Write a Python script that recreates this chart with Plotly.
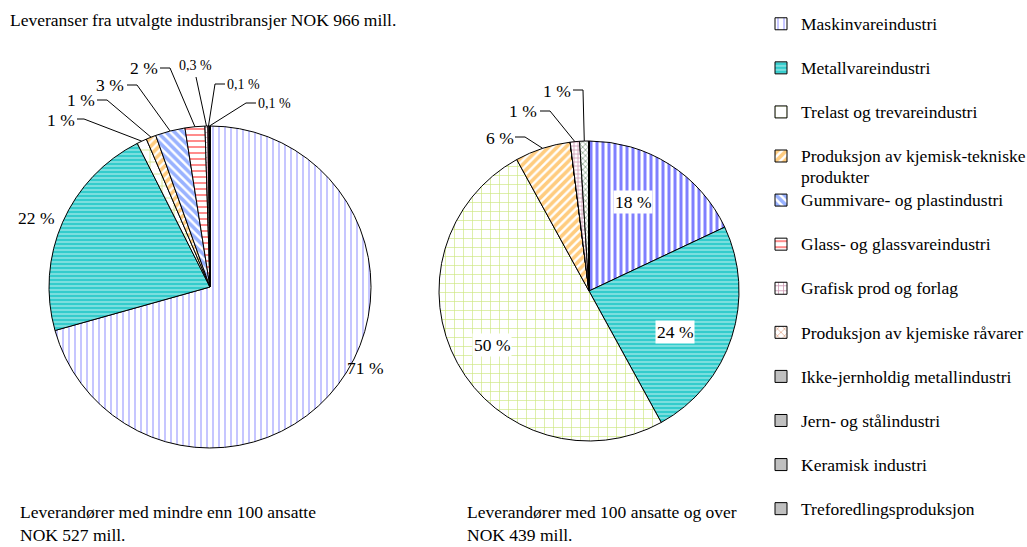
import math
import plotly.graph_objects as go

# ---------------- data ----------------
categories = [
    "Maskinvareindustri",
    "Metallvareindustri",
    "Trelast og trevareindustri",
    "Produksjon av kjemisk-tekniske produkter",
    "Gummivare- og plastindustri",
    "Glass- og glassvareindustri",
    "Grafisk prod og forlag",
    "Produksjon av kjemiske råvarer",
    "Ikke-jernholdig metallindustri",
    "Jern- og stålindustri",
    "Keramisk industri",
    "Treforedlingsproduksjon",
]
small_firms = [71, 22, 1, 1, 3, 2, 0.3, 0.1, 0.1, 0, 0, 0]   # < 100 ansatte (%)
large_firms = [18, 24, 50, 6, 0, 0, 1, 1, 0, 0, 0, 0]        # >= 100 ansatte (%)

title_text = "Leveranser fra utvalgte industribransjer NOK 966 mill."
sub1_text = "Leverandører med mindre enn 100 ansatte<br>NOK 527 mill."
sub2_text = "Leverandører med 100 ansatte og over<br>NOK 439 mill."

# ---------------- layout constants ----------------
W, H = 1027, 547
FONT = '"Liberation Serif", "Times New Roman", Times, serif'
BIG = 17.5
SMALL = 14

P1 = dict(cx=210, cy=287, r=161)
P2 = dict(cx=589, cy=291, r=150)

def px(x):
    return x / W

def py(y):
    return 1 - y / H

def domain(p):
    return dict(x=[px(p["cx"] - p["r"]), px(p["cx"] + p["r"])],
                y=[py(p["cy"] + p["r"]), py(p["cy"] - p["r"])])

def pct(v):
    s = ("%g" % v).replace(".", ",")
    return s + " %"

def legend_label(c):
    if c.endswith(" produkter"):
        a, b = c[:-len(" produkter")], "produkter"
    else:
        a, b = c, " "
    return f"<span style='font-size:{BIG}px'>{a}</span><br><span style='font-size:{BIG}px'>{b}</span>"

labels = [legend_label(c) for c in categories]

WHITE = "#ffffff"
GRAY = "#c0c0c0"
# pie 1 styles
bg1 = [WHITE, "#33cccc", WHITE, WHITE, WHITE, WHITE, WHITE, WHITE, GRAY, GRAY, GRAY, GRAY]
fg1 = ["#8080ff", WHITE, "#99cc00", "#ff9900", "#3366ff", "#ff0000", "#993366", "#cc6633",
       GRAY, GRAY, GRAY, GRAY]
sh1 = ["|", "-", "+", "/", "\\", "-", "+", "x", "", "", "", ""]
sz1 = [6, 4, 12, 6, 6, 6, 5, 5, 8, 8, 8, 8]
so1 = [0.3, 0.35, 0.12, 0.6, 0.6, 0.3, 0.3, 0.3, 0.3, 0.3, 0.3, 0.3]
# pie 2 styles
bg2 = [WHITE, "#33cccc", WHITE, WHITE, WHITE, WHITE, WHITE, WHITE, GRAY, GRAY, GRAY, GRAY]
fg2 = ["#0000ff", WHITE, "#99cc00", "#ff9900", "#3366ff", "#ff0000", "#993366", "#336633",
       GRAY, GRAY, GRAY, GRAY]
sh2 = ["|", "-", "+", "/", "\\", "-", "+", "x", "", "", "", ""]
sz2 = [6, 4, 9, 6, 6, 6, 4, 4, 8, 8, 8, 8]
so2 = [0.5, 0.35, 0.14, 0.6, 0.6, 0.3, 0.35, 0.4, 0.3, 0.3, 0.3, 0.3]

fig = go.Figure()
fig.add_trace(go.Pie(
    labels=labels, values=small_firms, sort=False, direction="clockwise", rotation=0,
    domain=domain(P1), textinfo="none", hoverinfo="label+percent", showlegend=True,
    marker=dict(colors=bg1, line=dict(color="black", width=1),
                pattern=dict(shape=sh1, fgcolor=fg1, size=sz1, solidity=so1, fillmode="overlay")),
))
fig.add_trace(go.Pie(
    labels=labels, values=large_firms, sort=False, direction="clockwise", rotation=0,
    domain=domain(P2), textinfo="none", hoverinfo="label+percent", showlegend=False,
    marker=dict(colors=bg2, line=dict(color="black", width=1),
                pattern=dict(shape=sh2, fgcolor=fg2, size=sz2, solidity=so2, fillmode="overlay")),
))

def edge(values, idx, p, k=1.0):
    tot = sum(values)
    mid = (sum(values[:idx]) + values[idx] / 2) / tot
    th = 2 * math.pi * mid
    return p["cx"] + k * p["r"] * math.sin(th), p["cy"] - k * p["r"] * math.cos(th)

annotations = []
shapes = []

def text(x, y, s, size=BIG, xanchor="center", bg=None, align="left"):
    d = dict(x=px(x), y=py(y), xref="paper", yref="paper", text=s, showarrow=False,
             xanchor=xanchor, yanchor="middle", align=align,
             font=dict(family=FONT, size=size, color="black"))
    if bg:
        d["bgcolor"] = bg
        d["borderpad"] = 1
    annotations.append(d)

def leader(values, idx, p, pts):
    ex, ey = edge(values, idx, p)
    path = "M " + " L ".join(f"{px(a)},{py(b)}" for a, b in pts + [(ex, ey)])
    shapes.append(dict(type="path", xref="paper", yref="paper", path=path,
                       line=dict(color="black", width=1)))

# pie 1 labels: (index, text position, font size, leader line points)
pie1_inside = [(0, (365, 368)), (1, (36, 218))]
pie1_outside = [
    (2, (61, 120), BIG, [(77, 119), (84, 119)]),
    (3, (81, 100), BIG, [(97, 100), (107, 100)]),
    (4, (110, 85), BIG, [(127, 85), (137, 85)]),
    (5, (144, 68), BIG, [(160, 68), (170, 68)]),
    (6, (195, 66), SMALL, [(196, 77)]),
    (7, (243, 84), SMALL, [(225, 84), (215, 84)]),
    (8, (274, 103), SMALL, [(256, 103), (246, 103)]),
]
for i, (x, y) in pie1_inside:
    text(x, y, pct(small_firms[i]))
for i, (x, y), s, pts in pie1_outside:
    text(x, y, pct(small_firms[i]), size=s)
    leader(small_firms, i, P1, pts)

pie2_inside = [(0, (633, 202)), (1, (675, 332)), (2, (492, 345))]
pie2_outside = [
    (3, (500, 138), BIG, [(515, 137), (525, 137)]),
    (6, (523, 111), BIG, [(540, 111), (550, 111)]),
    (7, (557, 91), BIG, [(573, 90), (583, 90)]),
]
for i, (x, y) in pie2_inside:
    text(x, y, pct(large_firms[i]), bg="white")
for i, (x, y), s, pts in pie2_outside:
    text(x, y, pct(large_firms[i]), size=s)
    leader(large_firms, i, P2, pts)

text(8, 20, title_text, xanchor="left")
text(18, 523, sub1_text, xanchor="left")
text(465, 523, sub2_text, xanchor="left")

fig.update_layout(
    width=W, height=H,
    margin=dict(l=0, r=0, t=0, b=0, autoexpand=False),
    paper_bgcolor="white", plot_bgcolor="white",
    font=dict(family=FONT, size=BIG, color="black"),
    annotations=annotations, shapes=shapes,
    legend=dict(x=px(761), y=py(7), xanchor="left", yanchor="top",
                font=dict(family=FONT, size=15.8, color="black"),
                valign="top", bgcolor="rgba(0,0,0,0)", itemclick=False, itemdoubleclick=False),
)

fig.write_html("out.html", config={"displayModeBar": False},
               post_script="document.body.style.margin='0';")
